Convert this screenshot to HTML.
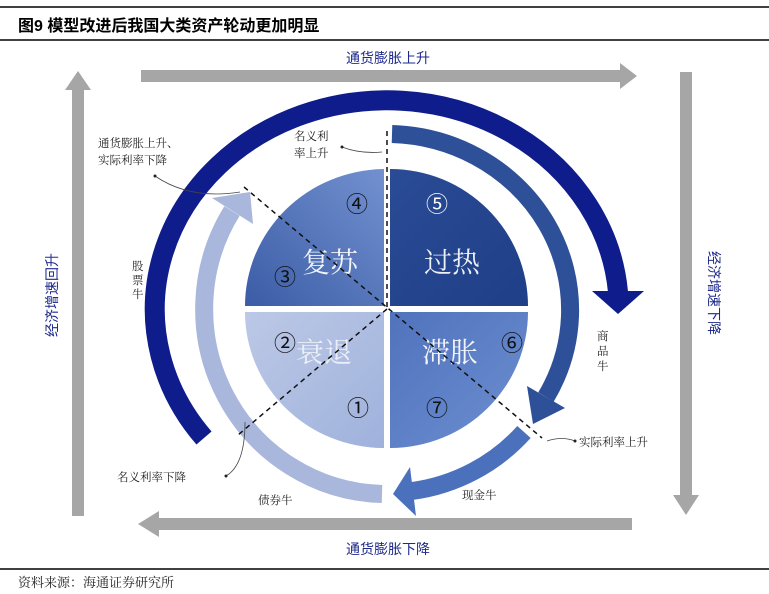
<!DOCTYPE html>
<html><head><meta charset="utf-8"><style>
html,body{margin:0;padding:0;background:#fff;}
body{width:769px;height:594px;overflow:hidden;position:relative;font-family:"Liberation Sans","Noto Sans CJK SC",sans-serif;}
</style></head><body>
<svg width="769" height="594" viewBox="0 0 769 594" xmlns="http://www.w3.org/2000/svg" style="position:absolute;left:0;top:0">
<defs>
<linearGradient id="gTL" x1="0" y1="1" x2="1" y2="0"><stop offset="0" stop-color="#3b5ca6"/><stop offset="1" stop-color="#7391d0"/></linearGradient>
<linearGradient id="gTR" x1="0" y1="0" x2="1" y2="1"><stop offset="0" stop-color="#2a4b95"/><stop offset="1" stop-color="#1f3f88"/></linearGradient>
<linearGradient id="gBL" x1="0" y1="0" x2="1" y2="1"><stop offset="0" stop-color="#bcc8e6"/><stop offset="1" stop-color="#9fb2dc"/></linearGradient>
<linearGradient id="gBR" x1="0" y1="0" x2="1" y2="1"><stop offset="0" stop-color="#5073bd"/><stop offset="1" stop-color="#6d8ed0"/></linearGradient>
</defs>
<line x1="0" y1="7" x2="769" y2="7" stroke="#000" stroke-width="1.5"/>
<text x="18" y="31" font-size="16" font-weight="bold" fill="#000">图9  模型改进后我国大类资产轮动更加明显</text>
<line x1="0" y1="40" x2="769" y2="40" stroke="#000" stroke-width="1.5"/>
<line x1="0" y1="569" x2="769" y2="569" stroke="#000" stroke-width="1.5"/>
<text x="18" y="587" font-size="13" fill="#222" font-family="Liberation Serif, Noto Serif CJK SC, serif">资料来源：海通证券研究所</text>

<rect x="141" y="70" width="481" height="12" fill="#a6a6a6"/>
<polygon points="620,63 637,76 620,89" fill="#a6a6a6"/>
<rect x="72" y="88" width="12" height="428" fill="#a6a6a6"/>
<polygon points="65,90 78,71 91,90" fill="#a6a6a6"/>
<rect x="680" y="72" width="12" height="425" fill="#a6a6a6"/>
<polygon points="673,495 686,515 699,495" fill="#a6a6a6"/>
<rect x="157" y="518" width="475" height="12" fill="#a6a6a6"/>
<polygon points="159,511 138,524 159,537" fill="#a6a6a6"/>

<text x="388" y="63" font-size="14" fill="#1e2a8c" text-anchor="middle">通货膨胀上升</text>
<text x="388" y="554" font-size="14" fill="#1e2a8c" text-anchor="middle">通货膨胀下降</text>
<text transform="translate(57,295) rotate(-90)" font-size="14" fill="#1e2a8c" text-anchor="middle">经济增速回升</text>
<text transform="translate(709,293) rotate(90)" font-size="14" fill="#1e2a8c" text-anchor="middle">经济增速下降</text>

<path d="M384,306 H245 A141 137 0 0 1 384,169 Z" fill="url(#gTL)"/>
<path d="M390,306 V169 A138 137 0 0 1 528,306 Z" fill="url(#gTR)"/>
<path d="M390,312 H528 A138 136 0 0 1 390,448 Z" fill="url(#gBR)"/>
<path d="M384,312 V448 A139 136 0 0 1 245,312 Z" fill="url(#gBL)"/>

<g fill="#fff" font-size="28" text-anchor="middle" opacity="0.92" font-family="Liberation Serif, Noto Serif CJK SC, serif">
<text x="330" y="272">复苏</text><text x="452" y="272">过热</text>
<text x="324" y="362" opacity="0.8">衰退</text><text x="450" y="362">滞胀</text>
</g>
<g font-size="22" text-anchor="middle">
<text x="357" y="212" fill="#111">④</text>
<text x="285" y="285" fill="#111">③</text>
<text x="437" y="212" fill="#fff">⑤</text>
<text x="285" y="351" fill="#111">②</text>
<text x="512" y="351" fill="#111">⑥</text>
<text x="358" y="416" fill="#111">①</text>
<text x="437" y="416" fill="#111">⑦</text>
</g>

<path d="M204,438 A232 209 0 1 1 618,292" fill="none" stroke="#0e1c8c" stroke-width="20"/>
<polygon points="592,291 644,291 618,314" fill="#0e1c8c"/>
<path d="M392,134 A184 176 0 0 1 546,397" fill="none" stroke="#2d5098" stroke-width="18"/>
<polygon points="565,408 527,386 533,424" fill="#2d5098"/>
<path d="M524,432 A184 184 0 0 1 412,491" fill="none" stroke="#4b70bc" stroke-width="18"/>
<polygon points="410,467 416,516 393,494" fill="#4b70bc"/>
<path d="M382,494 A183 185 0 0 1 232,211" fill="none" stroke="#a8b7db" stroke-width="18"/>
<polygon points="253,224 212,198 250,192" fill="#a8b7db"/>

<g stroke="#111" stroke-width="1.5" stroke-dasharray="5,4" fill="none">
<line x1="387" y1="131" x2="387" y2="309"/>
<line x1="244" y1="187" x2="542" y2="438"/>
<line x1="387" y1="309" x2="238" y2="435"/>
</g>

<g stroke="#444" stroke-width="0.8" fill="none">
<path d="M382,152 Q360,154 342,147"/>
<path d="M240,192 Q190,200 155,176"/>
<path d="M547,441 Q562,436 575,441"/>
<path d="M245,422 Q245,465 226,476"/>
</g>
<g fill="#222">
<circle cx="342" cy="147" r="1.5"/><circle cx="155" cy="176" r="1.5"/><circle cx="575" cy="441" r="1.5"/><circle cx="226" cy="476" r="1.5"/>
</g>

<g font-size="11.5" fill="#222" font-family="Liberation Serif, Noto Serif CJK SC, serif">
<text x="294" y="140">名义利</text><text x="294" y="157">率上升</text>
<text x="98" y="147">通货膨胀上升、</text><text x="98" y="164">实际利率下降</text>
<text x="132" y="270">股</text><text x="132" y="284">票</text><text x="132" y="298">牛</text>
<text x="597" y="340">商</text><text x="597" y="355">品</text><text x="597" y="370">牛</text>
<text x="579" y="446">实际利率上升</text>
<text x="117" y="481">名义利率下降</text>
<text x="258" y="504">债券牛</text>
<text x="462" y="499">现金牛</text>
</g>
</svg>
</body></html>
